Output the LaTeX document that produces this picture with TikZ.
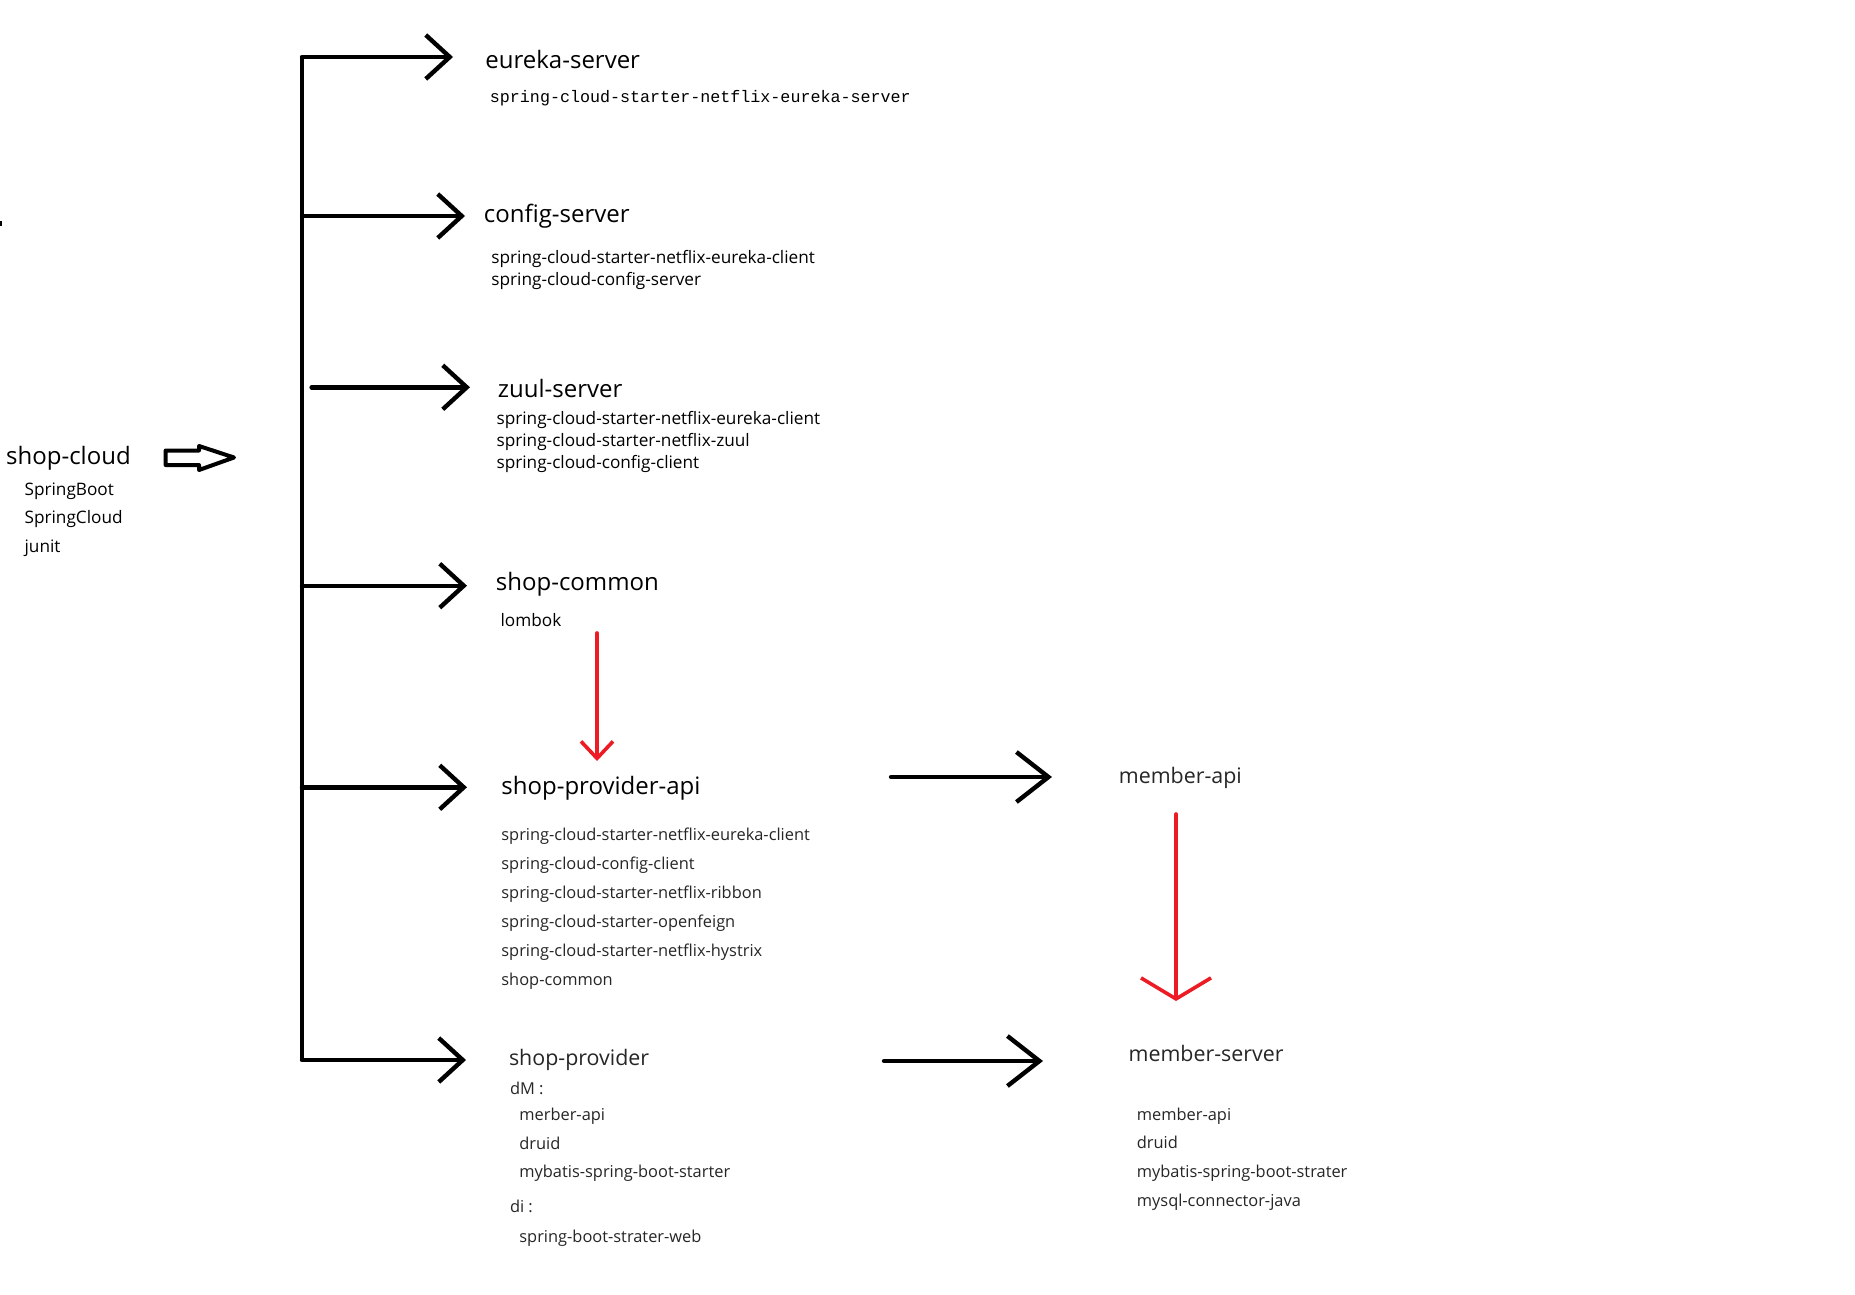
\documentclass[tikz,border=0pt]{standalone}
\usepackage{fontspec}
\setmainfont{Open Sans}
\newfontfamily\depmonofont{Liberation Mono}
\usetikzlibrary{arrows.meta}

\definecolor{paintred}{HTML}{ED1C24}

\tikzset{
  modname/.style={anchor=base west, inner sep=0pt, font=\fontsize{12}{14}\selectfont},
  modmid/.style={anchor=base west, inner sep=0pt, text=black!85, font=\fontsize{10.7}{13}\selectfont},
  dep/.style={anchor=base west, inner sep=0pt, font=\fontsize{8.6}{10}\selectfont},
  depsm/.style={anchor=base west, inner sep=0pt, text=black!85, font=\fontsize{8.2}{10}\selectfont},
  depmono/.style={anchor=base west, inner sep=0pt, font=\depmonofont\fontsize{8.35}{10}\selectfont},
  trunk/.style={line width=2.2pt},
  branch/.style={line width=2.2pt, line cap=round, -{Straight Barb[length=12pt,width=22pt]}},
  link/.style={line width=2.2pt, line cap=round, -{Straight Barb[length=16pt,width=25pt]}},
  uses/.style={paintred, line width=1.8pt, line cap=round},
  hollow/.style={line width=2pt, line join=round}
}

\begin{document}
\begin{tikzpicture}[x=0.5pt, y=-0.5pt]
      \fill[white] (0,0) rectangle (1855,1294);
      \useasboundingbox (0,0) rectangle (1855,1294);

      % parent project
      \node[modname] (cloud) at (5.8,464.7) {shop-cloud};
      \node[dep] (cloud-1) at (24.2,495) {SpringBoot};
      \node[dep] (cloud-2) at (24.2,523.3) {SpringCloud};
      \node[dep] (cloud-3) at (24.2,552.7) {junit};
      \fill (0,221) rectangle (2,226);

      % modules
      \node[modname] (eureka) at (485,68.5) {eureka-server};
      \node[depmono] (eureka-1) at (489.5,102.5) {spring-cloud-starter-netflix-eureka-server};

      \node[modname] (config) at (483.5,223) {config-server};
      \node[dep] (config-1) at (491,263.7) {spring-cloud-starter-netflix-eureka-client};
      \node[dep] (config-2) at (491,285.3) {spring-cloud-config-server};

      \node[modname] (zuul) at (497.5,397) {zuul-server};
      \node[dep] (zuul-1) at (496.2,424.3) {spring-cloud-starter-netflix-eureka-client};
      \node[dep] (zuul-2) at (496.2,446.7) {spring-cloud-starter-netflix-zuul};
      \node[dep] (zuul-3) at (496.2,468.3) {spring-cloud-config-client};

      \node[modname] (common) at (495.5,590.5) {shop-common};
      \node[dep] (lombok) at (500.2,626.7) {lombok};

      \node[modname] (papi) at (501,794.7) {shop-provider-api};
      \foreach \d [count=\i] in {spring-cloud-starter-netflix-eureka-client,
          spring-cloud-config-client, spring-cloud-starter-netflix-ribbon,
          spring-cloud-starter-openfeign, spring-cloud-starter-netflix-hystrix,
          shop-common}
        \node[depsm] (papi-\i) at (501,{840+(\i-1)*29}) {\d};

      \node[modmid] (prov) at (508.6,1065) {shop-provider};
      \node[depsm] (prov-dm) at (509.6,1094) {dM :};
      \node[depsm] (prov-1) at (519,1120) {merber-api};
      \node[depsm] (prov-2) at (519,1149) {druid};
      \node[depsm] (prov-3) at (519,1177.7) {mybatis-spring-boot-starter};
      \node[depsm] (prov-di) at (509.6,1212) {di :};
      \node[depsm] (prov-4) at (519,1242) {spring-boot-strater-web};

      \node[modmid] (mapi) at (1118.5,783) {member-api};

      \node[modmid] (mserver) at (1128.2,1061.7) {member-server};
      \foreach \d [count=\i] in {member-api, druid, mybatis-spring-boot-strater,
          mysql-connector-java}
        \node[depsm] (mserver-\i) at (1136.5,{1120+(\i-1)*28.9}) {\d};

      % hollow arrow
      \coordinate (hollow) at (165.6,457.5);
      \draw[hollow] (hollow) ++(0,-7) -- ++(33.4,0) -- ++(0,-4.5) -- ++(35,11.5)
        -- ++(-35,12.5) -- ++(0,-5) -- ++(-33.4,0) -- cycle;

      % trunk and branches
      \coordinate (top) at (302,57);
      \coordinate (bottom) at (302,1060);
      \draw[trunk] (top) -- (bottom);
      \foreach \m/\sx/\y/\tx in {eureka/302/57/453, config/302/216/465,
          zuul/311.6/387.3/470, common/302/585.7/467, papi/302/787.3/467,
          prov/302/1060/466} {
        \coordinate (t-\m) at (\sx,\y);
        \coordinate (h-\m) at (\tx,\y);
        \draw[branch] (t-\m) -- (h-\m);
      }

      % provider links
      \coordinate (l-papi) at (891,777);
      \coordinate (l-mapi) at (1052,777);
      \coordinate (l-prov) at (884,1061);
      \coordinate (l-mserver) at (1043,1061);
      \draw[link] (l-papi) -- (l-mapi);
      \draw[link] (l-prov) -- (l-mserver);

      % red dependencies
      \coordinate (r-common) at (597,633);
      \coordinate (r-papi) at (597,761);
      \coordinate (r-mapi) at (1176,814);
      \coordinate (r-mserver) at (1176,1001);
      \draw[uses, -{Straight Barb[length=8.5pt,width=16pt]}] (r-common) -- (r-papi);
      \draw[uses, -{Straight Barb[length=10.5pt,width=35pt]}] (r-mapi) -- (r-mserver);
    \end{tikzpicture}
\end{document}
